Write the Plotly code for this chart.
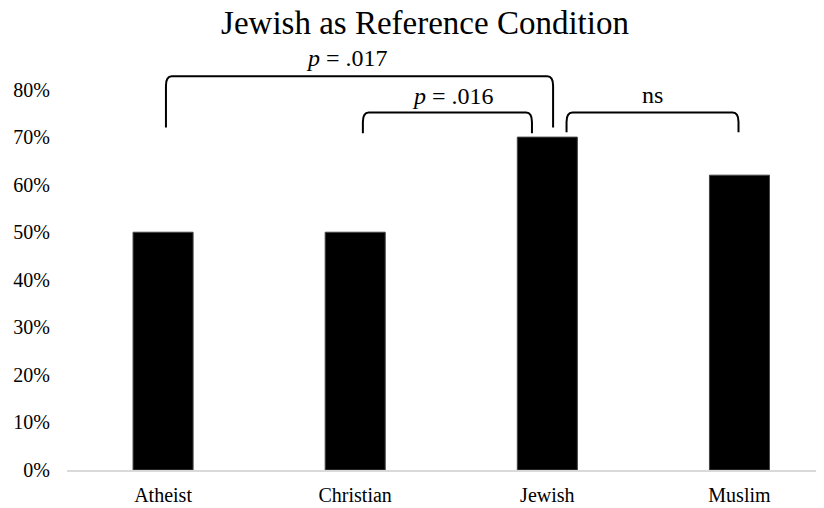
import plotly.graph_objects as go

categories = ["Atheist", "Christian", "Jewish", "Muslim"]
values = [0.50, 0.50, 0.70, 0.62]
y_ticks = [0.0, 0.1, 0.2, 0.3, 0.4, 0.5, 0.6, 0.7, 0.8]
comparisons = [
    # (from index, to index, label)
    (0, 2, "<i>p</i> = .017"),
    (1, 2, "<i>p</i> = .016"),
    (2, 3, "ns"),
]

SERIF = "Liberation Serif, Times New Roman, serif"
idx = list(range(len(categories)))

fig = go.Figure()
fig.add_trace(go.Bar(
    x=idx, y=values, width=0.3125,
    marker=dict(color="black", line=dict(color="#444444", width=1)),
    hoverinfo="x+y",
))

# bracket geometry (x offsets from category centers, y in data units)
brackets = [
    dict(x0=0 + 0.015, x1=2 + 0.03, yb=0.720, yt=0.828, tx=0.958, ty=0.866),
    dict(x0=1 + 0.04, x1=2 - 0.08, yb=0.708, yt=0.752, tx=1.51, ty=0.786),
    dict(x0=2 + 0.10, x1=3 - 0.005, yb=0.710, yt=0.752, tx=2.547, ty=0.788),
]
dx, dy = 0.03, 0.02
for (a, b, label), br in zip(comparisons, brackets):
    x0, x1, yb, yt = br["x0"], br["x1"], br["yb"], br["yt"]
    path = (f"M {x0},{yb} L {x0},{yt-dy} Q {x0},{yt} {x0+dx},{yt} "
            f"L {x1-dx},{yt} Q {x1},{yt} {x1},{yt-dy} L {x1},{yb}")
    fig.add_shape(type="path", path=path, xref="x", yref="y",
                  line=dict(color="black", width=2))
    fig.add_annotation(x=br["tx"], y=br["ty"], xref="x", yref="y",
                       text=label, showarrow=False,
                       font=dict(family=SERIF, size=24, color="black"))

# page body has an 8px margin; compensate so the plot lands where the reference has it
OFF = 8
fig.update_layout(
    width=824, height=508,
    margin=dict(l=67 - OFF, r=OFF, t=41.6 - OFF, b=38 + OFF, pad=0, autoexpand=False),
    paper_bgcolor="white", plot_bgcolor="white",
    showlegend=False,
    title=dict(text="Jewish as Reference Condition", x=(425 - OFF) / 824, xanchor="center",
               y=1 - (22 - OFF) / 508, yanchor="middle", yref="container",
               font=dict(family=SERIF, size=33, color="black"),
               automargin=False),
    font=dict(family=SERIF, color="black"),
    xaxis=dict(range=[-0.5, 3.44], tickvals=idx, ticktext=categories,
               showgrid=False, zeroline=False, showline=True,
               linecolor="#d9d9d9", linewidth=2, automargin=False,
               tickfont=dict(family=SERIF, size=20, color="black"),
               ticks="", ticklabelstandoff=6),
    yaxis=dict(range=[0, 0.9], tickvals=y_ticks, tickformat=".0%",
               showgrid=False, zeroline=False, showline=False, automargin=False,
               tickfont=dict(family=SERIF, size=20, color="black"),
               ticks="", ticklabelstandoff=16),
)

fig.write_html("out.html")
